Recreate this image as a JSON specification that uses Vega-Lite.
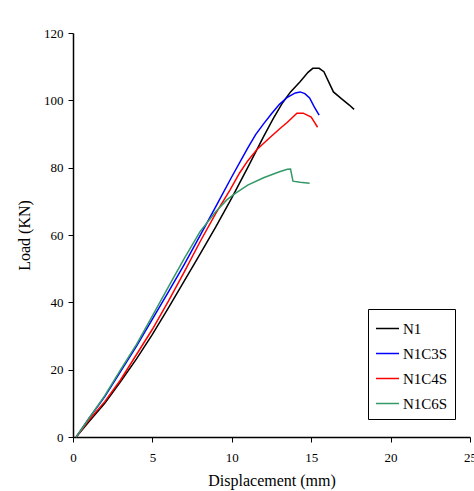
{
  "$schema": "https://vega.github.io/schema/vega-lite/v6.json",
  "autosize": "none",
  "padding": {"left": 73, "top": 33, "right": 4, "bottom": 54},
  "width": 397,
  "height": 404,
  "background": "white",
  "config": {
    "view": {"stroke": null},
    "font": "Liberation Serif",
    "axis": {
      "grid": false,
      "domainColor": "black",
      "domainWidth": 1.5,
      "tickColor": "black",
      "tickSize": 5,
      "tickWidth": 1,
      "labelFont": "Liberation Serif",
      "labelFontSize": 13,
      "labelColor": "black",
      "titleFont": "Liberation Serif",
      "titleFontSize": 16,
      "titleFontWeight": "normal",
      "titleColor": "black"
    },
    "legend": {
      "labelFont": "Liberation Serif",
      "labelFontSize": 15,
      "labelColor": "black"
    }
  },
  "data": {
    "values": [
      {"s": "N1", "i": 0, "x": 0.2, "y": 0},
      {"s": "N1", "i": 1, "x": 1, "y": 4.5},
      {"s": "N1", "i": 2, "x": 2, "y": 10},
      {"s": "N1", "i": 3, "x": 3, "y": 16.5},
      {"s": "N1", "i": 4, "x": 4, "y": 23.2},
      {"s": "N1", "i": 5, "x": 5, "y": 30.5},
      {"s": "N1", "i": 6, "x": 6, "y": 38.3},
      {"s": "N1", "i": 7, "x": 7, "y": 46.3},
      {"s": "N1", "i": 8, "x": 8, "y": 54.3},
      {"s": "N1", "i": 9, "x": 9, "y": 62.5},
      {"s": "N1", "i": 10, "x": 10, "y": 71},
      {"s": "N1", "i": 11, "x": 11, "y": 80},
      {"s": "N1", "i": 12, "x": 12, "y": 89.2},
      {"s": "N1", "i": 13, "x": 12.6, "y": 94.5},
      {"s": "N1", "i": 14, "x": 13.2, "y": 99.3},
      {"s": "N1", "i": 15, "x": 13.7, "y": 102.5},
      {"s": "N1", "i": 16, "x": 14.3, "y": 105.5},
      {"s": "N1", "i": 17, "x": 14.8, "y": 108.3},
      {"s": "N1", "i": 18, "x": 15.1, "y": 109.5},
      {"s": "N1", "i": 19, "x": 15.5, "y": 109.5},
      {"s": "N1", "i": 20, "x": 15.8, "y": 108.5},
      {"s": "N1", "i": 21, "x": 16.1, "y": 105.5},
      {"s": "N1", "i": 22, "x": 16.4, "y": 102.5},
      {"s": "N1", "i": 23, "x": 16.9, "y": 100.5},
      {"s": "N1", "i": 24, "x": 17.4, "y": 98.6},
      {"s": "N1", "i": 25, "x": 17.7, "y": 97.3},
      {"s": "N1C3S", "i": 0, "x": 0.2, "y": 0},
      {"s": "N1C3S", "i": 1, "x": 1, "y": 5.5},
      {"s": "N1C3S", "i": 2, "x": 2, "y": 12},
      {"s": "N1C3S", "i": 3, "x": 3, "y": 19.5},
      {"s": "N1C3S", "i": 4, "x": 4, "y": 27},
      {"s": "N1C3S", "i": 5, "x": 5, "y": 35},
      {"s": "N1C3S", "i": 6, "x": 6, "y": 43},
      {"s": "N1C3S", "i": 7, "x": 7, "y": 51.2},
      {"s": "N1C3S", "i": 8, "x": 8, "y": 59.8},
      {"s": "N1C3S", "i": 9, "x": 9, "y": 68.5},
      {"s": "N1C3S", "i": 10, "x": 10, "y": 77.3},
      {"s": "N1C3S", "i": 11, "x": 11, "y": 85.8},
      {"s": "N1C3S", "i": 12, "x": 11.5, "y": 89.8},
      {"s": "N1C3S", "i": 13, "x": 12, "y": 93},
      {"s": "N1C3S", "i": 14, "x": 12.5, "y": 96},
      {"s": "N1C3S", "i": 15, "x": 13, "y": 98.8},
      {"s": "N1C3S", "i": 16, "x": 13.5, "y": 100.9},
      {"s": "N1C3S", "i": 17, "x": 14, "y": 102.2},
      {"s": "N1C3S", "i": 18, "x": 14.3, "y": 102.5},
      {"s": "N1C3S", "i": 19, "x": 14.6, "y": 102},
      {"s": "N1C3S", "i": 20, "x": 14.9, "y": 100.7},
      {"s": "N1C3S", "i": 21, "x": 15.2, "y": 98},
      {"s": "N1C3S", "i": 22, "x": 15.5, "y": 95.6},
      {"s": "N1C4S", "i": 0, "x": 0.2, "y": 0},
      {"s": "N1C4S", "i": 1, "x": 1, "y": 5},
      {"s": "N1C4S", "i": 2, "x": 2, "y": 10.5},
      {"s": "N1C4S", "i": 3, "x": 3, "y": 17},
      {"s": "N1C4S", "i": 4, "x": 4, "y": 24.5},
      {"s": "N1C4S", "i": 5, "x": 5, "y": 32},
      {"s": "N1C4S", "i": 6, "x": 6, "y": 40.3},
      {"s": "N1C4S", "i": 7, "x": 7, "y": 49},
      {"s": "N1C4S", "i": 8, "x": 8, "y": 58},
      {"s": "N1C4S", "i": 9, "x": 9, "y": 66.5},
      {"s": "N1C4S", "i": 10, "x": 9.9, "y": 73.5},
      {"s": "N1C4S", "i": 11, "x": 10.5, "y": 78.5},
      {"s": "N1C4S", "i": 12, "x": 11, "y": 82},
      {"s": "N1C4S", "i": 13, "x": 11.6, "y": 85.5},
      {"s": "N1C4S", "i": 14, "x": 12.3, "y": 88.5},
      {"s": "N1C4S", "i": 15, "x": 13, "y": 91.5},
      {"s": "N1C4S", "i": 16, "x": 13.5, "y": 93.5},
      {"s": "N1C4S", "i": 17, "x": 14.1, "y": 96.2},
      {"s": "N1C4S", "i": 18, "x": 14.5, "y": 96.2},
      {"s": "N1C4S", "i": 19, "x": 15, "y": 95},
      {"s": "N1C4S", "i": 20, "x": 15.2, "y": 93.5},
      {"s": "N1C4S", "i": 21, "x": 15.4, "y": 92},
      {"s": "N1C6S", "i": 0, "x": 0.2, "y": 0},
      {"s": "N1C6S", "i": 1, "x": 1, "y": 5.5},
      {"s": "N1C6S", "i": 2, "x": 2, "y": 12.3},
      {"s": "N1C6S", "i": 3, "x": 3, "y": 20},
      {"s": "N1C6S", "i": 4, "x": 4, "y": 27.5},
      {"s": "N1C6S", "i": 5, "x": 5, "y": 36},
      {"s": "N1C6S", "i": 6, "x": 6, "y": 44.5},
      {"s": "N1C6S", "i": 7, "x": 7, "y": 53},
      {"s": "N1C6S", "i": 8, "x": 8, "y": 61},
      {"s": "N1C6S", "i": 9, "x": 9, "y": 67},
      {"s": "N1C6S", "i": 10, "x": 9.7, "y": 70.5},
      {"s": "N1C6S", "i": 11, "x": 10.2, "y": 72.3},
      {"s": "N1C6S", "i": 12, "x": 11, "y": 74.8},
      {"s": "N1C6S", "i": 13, "x": 12, "y": 77},
      {"s": "N1C6S", "i": 14, "x": 13, "y": 78.8},
      {"s": "N1C6S", "i": 15, "x": 13.5, "y": 79.5},
      {"s": "N1C6S", "i": 16, "x": 13.7, "y": 79.6},
      {"s": "N1C6S", "i": 17, "x": 13.85, "y": 76},
      {"s": "N1C6S", "i": 18, "x": 14.3, "y": 75.7},
      {"s": "N1C6S", "i": 19, "x": 14.9, "y": 75.4}
    ]
  },
  "mark": {"type": "line", "strokeWidth": 1.5, "clip": false},
  "encoding": {
    "x": {
      "field": "x",
      "type": "quantitative",
      "scale": {"domain": [0, 25], "nice": false, "zero": true},
      "axis": {"values": [0, 5, 10, 15, 20, 25], "title": "Displacement (mm)", "labelPadding": 9, "titlePadding": 8, "labelFlush": false}
    },
    "y": {
      "field": "y",
      "type": "quantitative",
      "scale": {"domain": [0, 120], "nice": false},
      "axis": {"values": [0, 20, 40, 60, 80, 100, 120], "title": "Load (KN)", "labelPadding": 5, "titlePadding": 11, "labelFlush": false}
    },
    "color": {
      "field": "s",
      "type": "nominal",
      "scale": {"domain": ["N1", "N1C3S", "N1C4S", "N1C6S"], "range": ["#000000", "#0000ff", "#ff0000", "#339966"]},
      "legend": {
        "title": null,
        "orient": "none",
        "legendX": 295,
        "legendY": 276,
        "symbolType": "stroke",
        "symbolSize": 529,
        "symbolStrokeWidth": 1.5,
        "strokeColor": "black",
        "padding": 7,
        "rowPadding": 4,
        "labelOffset": 3,
        "fillColor": "white"
      }
    },
    "order": {"field": "i", "type": "quantitative"}
  }
}
